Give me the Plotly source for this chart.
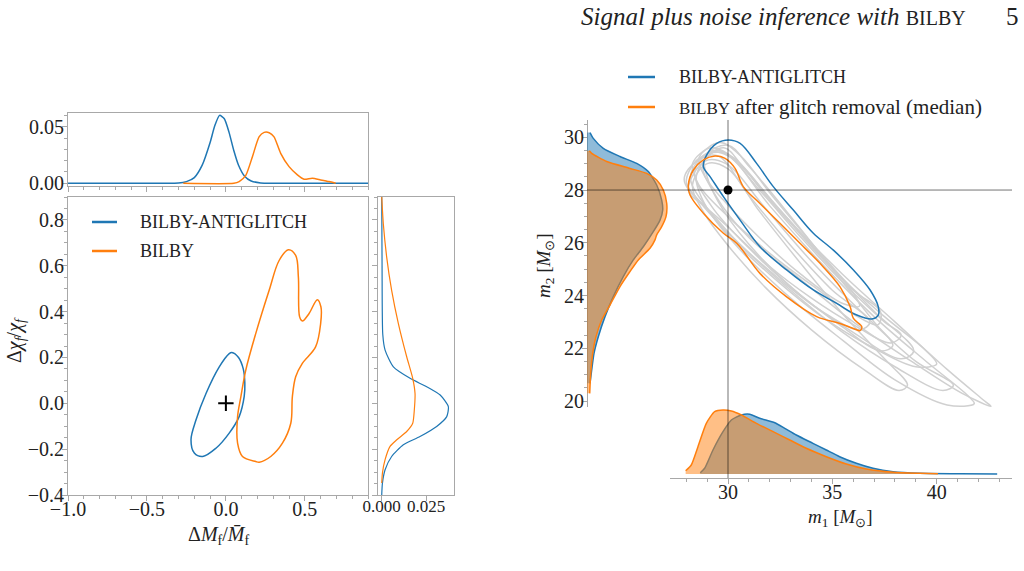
import plotly.graph_objects as go

# ---------------- data ----------------
# Left panel: 90% credible contours in (ΔM_f/M̄_f, Δχ_f/χ_f)
anti_dM = [0.038, 0.080, 0.110, 0.120, 0.116, 0.084, 0.021, -0.063, -0.147, -0.200, -0.221, -0.189, -0.126, -0.042, 0.021, 0.038]
anti_dchi = [0.222, 0.200, 0.150, 0.087, 0.030, -0.058, -0.130, -0.196, -0.232, -0.217, -0.159, -0.072, 0.043, 0.159, 0.217, 0.222]
bilby_dM = [0.189, 0.105, 0.074, 0.074, 0.095, 0.126, 0.189, 0.274, 0.337, 0.396, 0.442, 0.459, 0.467, 0.484, 0.526, 0.579, 0.602, 0.600, 0.568, 0.484, 0.442, 0.421, 0.411, 0.358, 0.284, 0.211, 0.189]
bilby_dchi = [-0.254, -0.232, -0.174, -0.058, 0.029, 0.145, 0.304, 0.493, 0.623, 0.670, 0.645, 0.551, 0.377, 0.359, 0.391, 0.452, 0.420, 0.348, 0.246, 0.174, 0.116, 0.029, -0.087, -0.174, -0.232, -0.257, -0.254]

# Top marginal: ΔM_f/M̄_f posterior density
top_anti_x = [-1.0, -0.40, -0.30, -0.25, -0.20, -0.15, -0.10, -0.07, -0.04, -0.01, 0.02, 0.05, 0.08, 0.12, 0.16, 0.22, 0.30, 0.90]
top_anti_pdf = [0.0, 0.0, 0.0002, 0.0015, 0.005, 0.016, 0.036, 0.051, 0.060, 0.057, 0.045, 0.029, 0.016, 0.006, 0.002, 0.0003, 0.0, 0.0]
top_bilby_x = [-0.27, 0.05, 0.084, 0.126, 0.168, 0.21, 0.242, 0.274, 0.305, 0.347, 0.40, 0.453, 0.495, 0.547, 0.60, 0.653, 0.695]
top_bilby_pdf = [0.0, 0.0, 0.0015, 0.007, 0.0235, 0.041, 0.045, 0.0447, 0.041, 0.0265, 0.0147, 0.0074, 0.0035, 0.0044, 0.003, 0.0015, 0.0]

# Right marginal: Δχ_f/χ_f posterior density
side_anti_chi = [0.90, 0.60, 0.30, 0.232, 0.159, 0.109, 0.072, 0.036, -0.014, -0.058, -0.101, -0.145, -0.181, -0.232, -0.290, -0.348, -0.40]
side_anti_pdf = [0.0, 0.0002, 0.0006, 0.0019, 0.0066, 0.016, 0.0254, 0.033, 0.0376, 0.0367, 0.031, 0.0216, 0.0122, 0.0056, 0.0019, 0.0004, 0.0]
side_bilby_chi = [0.90, 0.783, 0.638, 0.493, 0.348, 0.203, 0.109, 0.043, -0.029, -0.087, -0.123, -0.159, -0.188, -0.246, -0.304, -0.348]
side_bilby_pdf = [0.0, 0.0009, 0.0028, 0.0056, 0.0094, 0.0141, 0.0175, 0.0188, 0.0184, 0.0175, 0.0141, 0.0085, 0.0047, 0.0019, 0.0004, 0.0]

# Right panel: (m1, m2) contours
anti_m1 = [30.02, 30.58, 31.37, 32.17, 33.13, 34.09, 35.05, 36.01, 36.81, 37.20, 37.20, 36.89, 36.17, 35.21, 34.09, 32.81, 31.53, 30.58, 29.78, 29.14, 28.82, 28.98, 29.46, 30.02]
anti_m2 = [29.90, 29.77, 29.01, 28.13, 27.24, 26.36, 25.72, 24.97, 24.21, 23.58, 23.26, 23.11, 23.26, 23.70, 24.21, 24.97, 25.85, 26.86, 27.75, 28.51, 28.88, 29.33, 29.77, 29.90]
med_m1 = [29.38, 29.86, 30.34, 30.73, 31.53, 32.49, 33.45, 34.41, 35.37, 35.85, 36.01, 36.41, 36.33, 36.01, 35.37, 34.25, 32.81, 31.53, 30.42, 29.78, 28.82, 28.18, 28.10, 28.34, 28.82, 29.38]
med_m2 = [29.29, 29.20, 28.82, 28.13, 27.49, 26.74, 25.98, 25.22, 24.33, 23.58, 23.13, 22.82, 22.67, 22.75, 22.94, 23.20, 23.95, 24.84, 25.98, 26.36, 27.12, 27.81, 28.19, 28.76, 29.14, 29.29]

# individual-run contours (grey)
grey_m1 = [
    [28.3, 29.2, 30.3, 32.0, 34.0, 36.0, 37.3, 37.2, 36.0, 34.0, 32.0, 30.0, 28.6, 28.3],
    [28.0, 28.6, 29.8, 31.5, 33.5, 35.5, 37.5, 38.3, 37.8, 36.0, 34.0, 32.0, 30.0, 28.5, 28.0],
    [28.5, 29.5, 30.5, 32.5, 35.0, 37.5, 39.5, 40.0, 39.0, 37.0, 34.5, 32.0, 30.0, 28.8, 28.5],
    [28.2, 29.0, 30.0, 32.0, 34.5, 37.0, 39.5, 41.5, 41.8, 40.5, 38.0, 35.5, 33.0, 30.5, 29.0, 28.2],
    [28.8, 29.8, 30.8, 33.0, 35.5, 38.0, 40.5, 42.3, 42.6, 41.2, 38.8, 36.0, 33.5, 31.0, 29.4, 28.8],
    [28.3, 29.0, 30.0, 31.5, 33.5, 35.5, 37.5, 38.6, 38.2, 36.5, 34.0, 31.8, 30.0, 28.8, 28.3],
    [28.9, 30.0, 31.0, 33.0, 35.0, 37.0, 37.9, 37.3, 35.5, 33.5, 31.5, 29.8, 29.0, 28.9],
    [27.9, 28.5, 29.5, 31.0, 33.0, 35.0, 36.8, 36.3, 34.5, 32.5, 30.5, 28.8, 27.9],
    [28.6, 29.6, 30.6, 32.0, 34.0, 36.0, 36.3, 35.5, 33.5, 31.5, 29.8, 28.9, 28.6],
    [28.4, 29.3, 30.3, 32.2, 34.5, 37.0, 38.9, 38.3, 36.0, 33.5, 31.0, 29.2, 28.4],
    [28.1, 28.9, 29.9, 31.8, 34.0, 36.5, 39.0, 40.8, 40.3, 38.0, 35.5, 33.0, 30.6, 29.0, 28.1],
]
grey_m2 = [
    [29.0, 29.6, 29.2, 27.6, 25.9, 24.2, 23.4, 22.9, 23.3, 24.4, 25.6, 27.0, 28.2, 29.0],
    [28.3, 29.2, 29.4, 28.0, 26.2, 24.5, 23.0, 22.5, 22.2, 22.9, 23.9, 25.1, 26.6, 27.7, 28.3],
    [28.6, 29.5, 29.0, 27.2, 25.0, 23.2, 21.9, 21.4, 21.3, 22.0, 23.2, 24.8, 26.3, 27.6, 28.6],
    [28.5, 29.4, 29.3, 27.4, 25.2, 23.2, 21.5, 20.2, 19.9, 19.85, 20.8, 22.3, 23.9, 25.8, 27.3, 28.5],
    [29.0, 29.6, 28.8, 26.8, 24.8, 23.0, 21.2, 20.0, 19.8, 20.3, 21.5, 23.0, 24.6, 26.2, 27.8, 29.0],
    [28.2, 29.0, 28.8, 27.2, 25.2, 23.3, 21.6, 20.6, 20.4, 21.2, 22.7, 24.3, 25.9, 27.2, 28.2],
    [29.3, 29.7, 28.9, 27.0, 25.0, 23.0, 22.1, 21.9, 22.8, 24.0, 25.5, 27.2, 28.5, 29.3],
    [28.4, 29.1, 29.3, 27.8, 25.9, 24.2, 23.0, 22.7, 23.4, 24.6, 26.0, 27.4, 28.4],
    [29.2, 29.8, 29.3, 27.9, 26.0, 24.1, 23.6, 23.7, 24.8, 26.2, 27.6, 28.5, 29.2],
    [28.7, 29.5, 29.2, 27.5, 25.5, 23.4, 21.9, 21.6, 22.6, 24.0, 25.8, 27.4, 28.7],
    [28.0, 29.1, 29.0, 27.3, 25.3, 23.3, 21.5, 20.6, 20.4, 21.3, 22.6, 24.2, 25.9, 27.3, 28.0],
]

# m2 marginal (left of right panel), arbitrary density units
m2_anti = [30.18, 29.96, 29.58, 29.27, 29.01, 28.70, 28.19, 27.62, 27.24, 26.86, 26.42, 25.85, 25.35, 24.72, 23.96, 23.20, 22.44, 21.81, 21.18, 20.67]
m2_anti_pdf = [3.0, 6.3, 16.3, 33.0, 49.7, 61.3, 69.7, 74.7, 75.7, 73.0, 66.3, 56.3, 46.3, 36.3, 26.3, 18.0, 11.3, 7.0, 4.7, 3.0]
m2_med = [29.49, 29.39, 29.08, 28.82, 28.63, 28.38, 28.00, 27.50, 26.99, 26.61, 26.30, 26.11, 25.79, 25.35, 24.91, 24.34, 23.64, 23.07, 22.44, 21.81, 21.05, 20.29]
m2_med_pdf = [2.3, 4.7, 19.7, 43.0, 59.7, 69.7, 76.3, 79.7, 79.0, 74.7, 69.7, 68.0, 63.0, 51.3, 43.0, 33.0, 23.0, 14.7, 9.0, 5.7, 3.7, 2.7]

# m1 marginal (below right panel), arbitrary density units
m1_anti = [28.67, 28.88, 29.28, 29.76, 30.16, 30.64, 31.04, 31.52, 32.24, 32.72, 33.27, 34.07, 34.71, 35.35, 36.15, 36.95, 37.91, 39.19, 41.10, 42.90]
m1_anti_pdf = [1.3, 5.7, 24.0, 42.3, 54.0, 59.0, 59.7, 55.7, 51.3, 45.7, 39.0, 30.7, 24.0, 17.3, 10.7, 5.7, 2.3, 0.7, 0.2, 0.1]
m1_med = [27.97, 28.24, 28.56, 28.96, 29.36, 29.76, 30.16, 30.64, 31.36, 32.16, 32.96, 33.75, 34.71, 35.67, 36.63, 37.91, 39.19, 40.06]
m1_med_pdf = [3.3, 9.0, 27.3, 50.7, 62.3, 64.0, 63.0, 59.0, 50.7, 42.3, 34.0, 25.7, 17.3, 10.0, 5.0, 1.7, 0.7, 0.3]

true_m1, true_m2 = 30.0, 28.0

# ---------------- styling ----------------
W, H = 1024, 571
BLUE, ORANGE = "#1f77b4", "#ff7f0e"
BLUE_F, ORANGE_F = "rgba(31,119,180,0.5)", "rgba(255,127,14,0.5)"
SPINE = "#a8a8a8"
TXT = "#222222"
FONT = "Liberation Serif"


def fx(px):
    return px / W


def fy(py):
    return 1 - py / H


fig = go.Figure()

# left panel
fig.add_trace(go.Scatter(x=anti_dM, y=anti_dchi, mode="lines", line=dict(color=BLUE, width=1.5, shape="spline"),
                         xaxis="x", yaxis="y", showlegend=False))
fig.add_trace(go.Scatter(x=bilby_dM, y=bilby_dchi, mode="lines", line=dict(color=ORANGE, width=1.5, shape="spline"),
                         xaxis="x", yaxis="y", showlegend=False))
fig.add_trace(go.Scatter(x=[0], y=[0], mode="markers", marker=dict(symbol="cross-thin", size=11, line=dict(color="black", width=2)),
                         xaxis="x", yaxis="y", showlegend=False))
fig.add_trace(go.Scatter(x=top_anti_x, y=top_anti_pdf, mode="lines", line=dict(color=BLUE, width=1.5, shape="spline", smoothing=0.6),
                         xaxis="x2", yaxis="y2", showlegend=False))
fig.add_trace(go.Scatter(x=top_bilby_x, y=top_bilby_pdf, mode="lines", line=dict(color=ORANGE, width=1.5, shape="spline", smoothing=0.6),
                         xaxis="x2", yaxis="y2", showlegend=False))
fig.add_trace(go.Scatter(x=side_anti_pdf, y=side_anti_chi, mode="lines", line=dict(color=BLUE, width=1.2, shape="spline", smoothing=0.6),
                         xaxis="x3", yaxis="y3", showlegend=False))
fig.add_trace(go.Scatter(x=side_bilby_pdf, y=side_bilby_chi, mode="lines", line=dict(color=ORANGE, width=1.2, shape="spline", smoothing=0.6),
                         xaxis="x3", yaxis="y3", showlegend=False))

# right panel
for gx, gy in zip(grey_m1, grey_m2):
    fig.add_trace(go.Scatter(x=gx, y=gy, mode="lines", line=dict(color="#d0d0d0", width=1.5, shape="spline"),
                             xaxis="x4", yaxis="y4", showlegend=False))
fig.add_trace(go.Scatter(x=anti_m1, y=anti_m2, mode="lines", line=dict(color=BLUE, width=1.5, shape="spline"),
                         xaxis="x4", yaxis="y4", showlegend=False))
fig.add_trace(go.Scatter(x=med_m1, y=med_m2, mode="lines", line=dict(color=ORANGE, width=1.5, shape="spline"),
                         xaxis="x4", yaxis="y4", showlegend=False))
fig.add_trace(go.Scatter(x=[true_m1], y=[true_m2], mode="markers", marker=dict(color="black", size=9),
                         xaxis="x4", yaxis="y4", showlegend=False))

fig.add_trace(go.Scatter(x=m2_anti_pdf, y=m2_anti, mode="lines", fill="tozerox", fillcolor=BLUE_F,
                         line=dict(color=BLUE, width=1.5, shape="spline", smoothing=0.6),
                         xaxis="x5", yaxis="y4", showlegend=False))
fig.add_trace(go.Scatter(x=m2_med_pdf, y=m2_med, mode="lines", fill="tozerox", fillcolor=ORANGE_F,
                         line=dict(color=ORANGE, width=1.5, shape="spline", smoothing=0.6),
                         xaxis="x5", yaxis="y4", showlegend=False))
fig.add_trace(go.Scatter(x=m1_anti, y=m1_anti_pdf, mode="lines", fill="tozeroy", fillcolor=BLUE_F,
                         line=dict(color=BLUE, width=1.5, shape="spline", smoothing=0.6),
                         xaxis="x4", yaxis="y5", showlegend=False))
fig.add_trace(go.Scatter(x=m1_med, y=m1_med_pdf, mode="lines", fill="tozeroy", fillcolor=ORANGE_F,
                         line=dict(color=ORANGE, width=1.5, shape="spline", smoothing=0.6),
                         xaxis="x4", yaxis="y5", showlegend=False))

tickfont = dict(family=FONT, size=20, color=TXT)
base = dict(showgrid=False, zeroline=False, showline=True, linecolor=SPINE, linewidth=1, automargin=False,
            ticks="outside", tickcolor=SPINE, ticklen=5, tickwidth=1, tickfont=tickfont)
XS = dict(ticklabelstandoff=-9)
YS = dict(ticklabelstandoff=-6)


def minor(d):
    return dict(ticks="outside", dtick=d, ticklen=3, tickcolor=SPINE, tickwidth=1, showgrid=False)


fig.update_layout(
    width=W, height=H, margin=dict(l=0, r=0, t=0, b=0, autoexpand=False),
    paper_bgcolor="white", plot_bgcolor="rgba(0,0,0,0)",
    xaxis=dict(base, **XS, domain=[fx(68), fx(368)], range=[-1.0, 0.9], anchor="y", tick0=0, dtick=0.5,
               tickformat=".1f", mirror=True, minor=minor(0.1)),
    yaxis=dict(base, **YS, domain=[fy(495), fy(197)], range=[-0.4, 0.9], anchor="x", tick0=0, dtick=0.2,
               tickformat=".1f", mirror=True, minor=minor(0.05)),
    xaxis2=dict(base, domain=[fx(68), fx(368)], range=[-1.0, 0.9], anchor="y2", tick0=0, dtick=0.5,
                showticklabels=False, mirror=True, minor=minor(0.1)),
    yaxis2=dict(base, **YS, domain=[fy(186), fy(113)], range=[-0.0024, 0.0621], anchor="x2", tick0=0, dtick=0.05,
                tickformat=".2f", mirror=True, minor=minor(0.01)),
    xaxis3=dict(base, **XS, domain=[fx(378), fx(454)], range=[-0.0021, 0.0408], anchor="y3", tick0=0, dtick=0.025,
                tickformat=".3f", mirror=True, tickfont=dict(family=FONT, size=17, color=TXT)),
    yaxis3=dict(base, domain=[fy(495), fy(197)], range=[-0.4, 0.9], anchor="x3", tick0=0, dtick=0.2,
                showticklabels=False, mirror=True, minor=minor(0.05)),
    xaxis4=dict(base, **XS, domain=[fx(670), fx(1012)], range=[27.22, 43.61], anchor="free", position=fy(478),
                tick0=0, dtick=5, minor=minor(1)),
    yaxis4=dict(base, **YS, domain=[fy(407), fy(120)], range=[19.773, 30.656], anchor="free", position=fx(587),
                tick0=0, dtick=2, minor=minor(0.5)),
    xaxis5=dict(domain=[fx(587), fx(690)], range=[0, 103], anchor="y4", visible=False, automargin=False),
    yaxis5=dict(domain=[fy(478), fy(400)], range=[-4, 74], anchor="x4", visible=False, automargin=False),
)

shapes = [
    dict(type="line", xref="paper", yref="y4", x0=fx(587), x1=fx(1012), y0=true_m2, y1=true_m2,
         line=dict(color="rgba(0,0,0,0.55)", width=1)),
    dict(type="line", xref="x4", yref="paper", x0=true_m1, x1=true_m1, y0=fy(478), y1=fy(120),
         line=dict(color="rgba(0,0,0,0.55)", width=1)),
]
for (x0, x1, yy, c) in [(92, 117, 222, BLUE), (92, 117, 251, ORANGE), (628, 655, 77, BLUE), (628, 655, 107, ORANGE)]:
    shapes.append(dict(type="line", xref="paper", yref="paper", x0=fx(x0), x1=fx(x1), y0=fy(yy), y1=fy(yy),
                       line=dict(color=c, width=2.5)))
fig.update_layout(shapes=shapes)

SC = "<span style='font-size:{}px'>{}</span>"
ann = [
    (138, 222, SC.format(18, "BILBY-ANTIGLITCH"), "left", 18, 0),
    (138, 251, SC.format(18, "BILBY"), "left", 18, 0),
    (677, 77, SC.format(18, "BILBY-ANTIGLITCH"), "left", 18, 0),
    (677, 107, SC.format(17, "BILBY") + " after glitch removal (median)", "left", 21, 0),
    (968, 17, "<i>Signal plus noise inference with</i> " + SC.format(20, "BILBY"), "right", 25, 0),
    (1012, 17, "5", "center", 25, 0),
    (218, 535, "Δ<i>M</i><sub>f</sub>/<i>M̄</i><sub>f</sub>", "center", 20, 0),
    (15, 340, "Δ<i>χ<sub>f</sub></i>/<i>χ<sub>f</sub></i>", "center", 20, -90),
    (840, 518, "<i>m</i><sub>1</sub> [<i>M</i><sub>⊙</sub>]", "center", 19, 0),
    (545, 266, "<i>m</i><sub>2</sub> [<i>M</i><sub>⊙</sub>]", "center", 19, -90),
]
annotations = []
for (x, y, t, anc, size, ang) in ann:
    annotations.append(dict(x=fx(x), y=fy(y), xref="paper", yref="paper", text=t, showarrow=False,
                            xanchor=anc, yanchor="middle", textangle=ang,
                            font=dict(family=FONT, size=size, color=TXT)))
fig.update_layout(annotations=annotations)

fig.write_html("out.html")
